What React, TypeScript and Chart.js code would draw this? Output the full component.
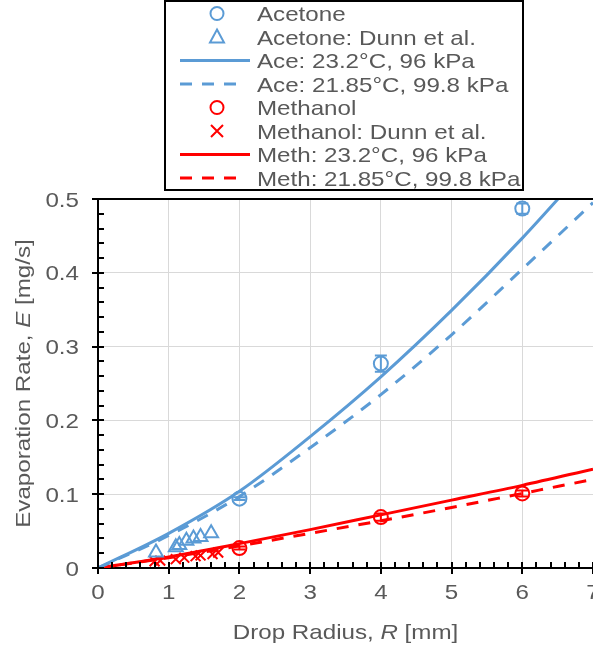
import React, { useEffect, useRef } from 'react';
import { Chart, registerables } from 'chart.js';

Chart.register(...registerables);

// ---- Data ----
const curveR = [0, 1, 2, 3, 4, 5, 6, 7];
const aceSolid = [0, 0.047, 0.104, 0.178, 0.259, 0.349, 0.447, 0.553];
const aceDashed = [0, 0.044, 0.097, 0.163, 0.235, 0.316, 0.405, 0.495];
const methSolid = [0, 0.015, 0.033, 0.052, 0.072, 0.092, 0.112, 0.134];
const methDashed = [0, 0.014, 0.030, 0.047, 0.064, 0.082, 0.101, 0.120];

const expR = [2, 4, 6];
const aceExp = [0.094, 0.277, 0.487];
const aceErr = [0.002, 0.011, 0.007];
const methExp = [0.027, 0.069, 0.101];
const methErr = [0.002, 0.005, 0.004];

const dunnAceR = [0.82, 1.1, 1.15, 1.25, 1.35, 1.45, 1.6];
const dunnAceE = [0.021, 0.028, 0.031, 0.037, 0.040, 0.042, 0.047];
const dunnMethR = [0.8, 0.88, 1.1, 1.22, 1.38, 1.45, 1.62, 1.7];
const dunnMethE = [0.009, 0.010, 0.012, 0.014, 0.016, 0.017, 0.019, 0.021];

const xTickValues = [0, 1, 2, 3, 4, 5, 6, 7];
const xTickLabels = ['0', '1', '2', '3', '4', '5', '6', '7'];
const yTickValues = [0, 0.1, 0.2, 0.3, 0.4, 0.5];
const yTickLabels = ['0', '0.1', '0.2', '0.3', '0.4', '0.5'];

const legendLabels = [
  'Acetone',
  'Acetone: Dunn et al.',
  'Ace: 23.2°C, 96 kPa',
  'Ace: 21.85°C, 99.8 kPa',
  'Methanol',
  'Methanol: Dunn et al.',
  'Meth: 23.2°C, 96 kPa',
  'Meth: 21.85°C, 99.8 kPa',
];

const BLUE = '#5B9BD5';
const RED = '#FF0000';
const TEXT = '#595959';
const FAMILY = "'Liberation Sans', Arial, sans-serif";
const FS = 21;
const SX = 1.15;

type Part = { text: string; italic?: boolean };

function drawRich(
  ctx: CanvasRenderingContext2D,
  parts: Part[],
  x: number,
  y: number,
  align: 'left' | 'center' | 'right',
  rotate = 0
) {
  const widths = parts.map((p) => {
    ctx.font = `${p.italic ? 'italic ' : ''}${FS}px ${FAMILY}`;
    return ctx.measureText(p.text).width;
  });
  const total = widths.reduce((a, b) => a + b, 0);
  ctx.save();
  ctx.translate(x, y);
  if (rotate) ctx.rotate(rotate);
  ctx.scale(SX, 1);
  ctx.fillStyle = TEXT;
  ctx.textBaseline = 'alphabetic';
  ctx.textAlign = 'left';
  let start = align === 'left' ? 0 : align === 'center' ? -total / 2 : -total;
  parts.forEach((p, i) => {
    ctx.font = `${p.italic ? 'italic ' : ''}${FS}px ${FAMILY}`;
    ctx.fillText(p.text, start, 0);
    start += widths[i];
  });
  ctx.restore();
}

function pts(xs: number[], ys: number[]) {
  return xs.map((x, i) => ({ x, y: ys[i] }));
}

const decorPlugin = {
  id: 'decor',
  afterDatasetsDraw(chart: any) {
    const ctx: CanvasRenderingContext2D = chart.ctx;
    const xs = chart.scales.x;
    const ys = chart.scales.y;
    const area = chart.chartArea;

    // error bars
    chart.data.datasets.forEach((ds: any) => {
      if (!ds.errors) return;
      ctx.save();
      ctx.strokeStyle = ds.borderColor;
      ctx.lineWidth = 2;
      ds.data.forEach((p: any, i: number) => {
        const px = xs.getPixelForValue(p.x);
        const top = ys.getPixelForValue(p.y + ds.errors[i]);
        const bot = ys.getPixelForValue(p.y - ds.errors[i]);
        ctx.beginPath();
        ctx.moveTo(px, top);
        ctx.lineTo(px, bot);
        ctx.moveTo(px - 6, top);
        ctx.lineTo(px + 6, top);
        ctx.moveTo(px - 6, bot);
        ctx.lineTo(px + 6, bot);
        ctx.stroke();
      });
      ctx.restore();
    });

    // frame top
    ctx.save();
    ctx.strokeStyle = '#000';
    ctx.lineWidth = 2;
    ctx.beginPath();
    ctx.moveTo(area.left, area.top);
    ctx.lineTo(area.right, area.top);
    ctx.stroke();

    // ticks
    ctx.lineWidth = 2;
    ctx.beginPath();
    const yMin = ys.min, yMax = ys.max;
    for (let k = 0; k <= Math.round((yMax - yMin) / 0.02); k++) {
      const v = yMin + k * 0.02;
      const py = Math.round(ys.getPixelForValue(v));
      const major = k % 5 === 0;
      ctx.moveTo(area.left - (major ? 6 : 0), py);
      ctx.lineTo(area.left + 6, py);
    }
    const xMin = xs.min, xMax = xs.max;
    for (let k = 0; k <= Math.round((xMax - xMin) / 0.2); k++) {
      const v = xMin + k * 0.2;
      const px = Math.round(xs.getPixelForValue(v));
      const major = k % 5 === 0;
      ctx.moveTo(px, area.bottom + (major ? 6 : 0));
      ctx.lineTo(px, area.bottom - 6);
    }
    ctx.stroke();
    ctx.restore();

    // tick labels
    yTickValues.forEach((v, i) => {
      drawRich(ctx, [{ text: yTickLabels[i] }], area.left - 19, ys.getPixelForValue(v) + 7.5, 'right');
    });
    xTickValues.forEach((v, i) => {
      drawRich(ctx, [{ text: xTickLabels[i] }], xs.getPixelForValue(v), area.bottom + 31, 'center');
    });

    // axis titles
    drawRich(
      ctx,
      [{ text: 'Drop Radius, ' }, { text: 'R', italic: true }, { text: ' [mm]' }],
      (area.left + area.right) / 2,
      area.bottom + 71,
      'center'
    );
    drawRich(
      ctx,
      [{ text: 'Evaporation Rate, ' }, { text: 'E', italic: true }, { text: ' [mg/s]' }],
      30,
      (area.top + area.bottom) / 2,
      'center',
      -Math.PI / 2
    );
  },
  afterDraw(chart: any) {
    const ctx: CanvasRenderingContext2D = chart.ctx;
    ctx.save();
    // legend box
    ctx.strokeStyle = '#000';
    ctx.lineWidth = 2;
    ctx.strokeRect(165, 1, 358, 189);
    const mx = 217;
    legendLabels.forEach((label, i) => {
      const cy = 13.5 + i * 23.5;
      const color = i < 4 ? BLUE : RED;
      const kind = i % 4;
      ctx.save();
      ctx.strokeStyle = color;
      ctx.lineWidth = 2;
      if (kind === 0) {
        ctx.beginPath();
        ctx.arc(mx, cy, 6.5, 0, Math.PI * 2);
        ctx.stroke();
      } else if (kind === 1) {
        if (i < 4) {
          ctx.beginPath();
          ctx.moveTo(mx, cy - 7.5);
          ctx.lineTo(mx + 7, cy + 5.5);
          ctx.lineTo(mx - 7, cy + 5.5);
          ctx.closePath();
          ctx.stroke();
        } else {
          ctx.beginPath();
          ctx.moveTo(mx - 6, cy - 6);
          ctx.lineTo(mx + 6, cy + 6);
          ctx.moveTo(mx + 6, cy - 6);
          ctx.lineTo(mx - 6, cy + 6);
          ctx.stroke();
        }
      } else {
        ctx.lineWidth = 3;
        ctx.beginPath();
        if (kind === 3) ctx.setLineDash([12, 10]);
        ctx.moveTo(180, cy);
        ctx.lineTo(kind === 3 ? 240 : 250, cy);
        ctx.stroke();
      }
      ctx.restore();
      drawRich(ctx, [{ text: label }], 257, cy + 7.5, 'left');
    });
    ctx.restore();
  },
};

export default function App() {
  const ref = useRef<HTMLCanvasElement>(null);
  useEffect(() => {
    if (!ref.current) return;
    const line = (data: number[], color: string, dashed: boolean) => ({
      type: 'scatter' as const,
      data: pts(curveR, data),
      showLine: true,
      borderColor: color,
      backgroundColor: color,
      borderWidth: 3,
      borderDash: dashed ? [12, 10] : [],
      pointRadius: 0,
      cubicInterpolationMode: 'monotone' as const,
    });
    const chart = new Chart(ref.current, {
      type: 'scatter',
      data: {
        datasets: [
          {
            data: pts(expR, aceExp),
            borderColor: BLUE,
            backgroundColor: 'rgba(0,0,0,0)',
            pointStyle: 'circle',
            pointRadius: 7,
            borderWidth: 2,
            errors: aceErr,
          } as any,
          {
            data: pts(dunnAceR, dunnAceE),
            borderColor: BLUE,
            backgroundColor: 'rgba(0,0,0,0)',
            pointStyle: 'triangle',
            pointRadius: 8,
            borderWidth: 2,
          },
          line(aceSolid, BLUE, false),
          line(aceDashed, BLUE, true),
          {
            data: pts(expR, methExp),
            borderColor: RED,
            backgroundColor: 'rgba(0,0,0,0)',
            pointStyle: 'circle',
            pointRadius: 7,
            borderWidth: 2,
            errors: methErr,
          } as any,
          {
            data: pts(dunnMethR, dunnMethE),
            borderColor: RED,
            backgroundColor: 'rgba(0,0,0,0)',
            pointStyle: 'crossRot',
            pointRadius: 7,
            borderWidth: 2,
          },
          line(methSolid, RED, false),
          line(methDashed, RED, true),
        ],
      },
      options: {
        animation: false,
        responsive: false,
        maintainAspectRatio: false,
        events: [],
        layout: { autoPadding: false, padding: { top: 199, left: 0, right: 0, bottom: 0 } } as any,
        plugins: { legend: { display: false }, tooltip: { enabled: false } },
        scales: {
          x: {
            type: 'linear',
            min: 0,
            max: 7,
            afterFit: (s: any) => {
              s.height = 83;
            },
            ticks: { display: false, stepSize: 1 },
            grid: { color: '#d9d9d9', lineWidth: 1, drawTicks: false },
            border: { color: '#000', width: 2 },
          },
          y: {
            type: 'linear',
            min: 0,
            max: 0.5,
            afterFit: (s: any) => {
              s.width = 98;
            },
            ticks: { display: false, stepSize: 0.1 },
            grid: { color: '#d9d9d9', lineWidth: 1, drawTicks: false },
            border: { color: '#000', width: 2 },
          },
        },
      },
      plugins: [decorPlugin],
    });
    return () => chart.destroy();
  }, []);
  return (
    <div style={{ position: 'fixed', left: 0, top: 0, width: 593, height: 651, background: '#fff' }}>
      <canvas ref={ref} width={593} height={651} style={{ width: 593, height: 651, display: 'block' }} />
    </div>
  );
}
